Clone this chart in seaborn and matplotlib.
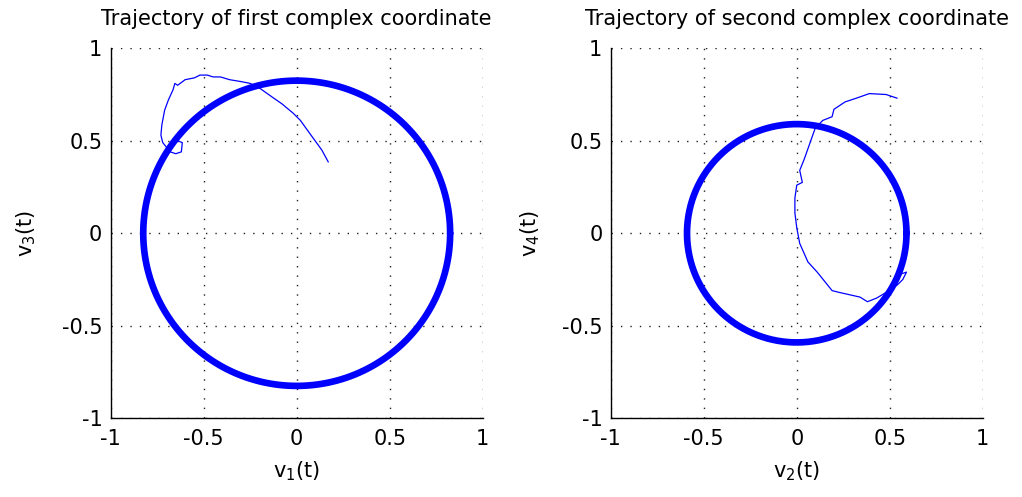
import numpy as np
import pandas as pd
import matplotlib
matplotlib.use("Agg")
import matplotlib.pyplot as plt
import seaborn as sns

# Limit cycle radii of each complex coordinate
radius_first = 0.825
radius_second = 0.59

# Transient trajectory of the first complex coordinate (v1, v3)
v1 = [0.17, 0.135, 0.07, 0.02, -0.02, -0.08, -0.13, -0.20, -0.25, -0.30, -0.36,
      -0.41, -0.45, -0.48, -0.52, -0.55, -0.60, -0.64, -0.655, -0.665, -0.69,
      -0.71, -0.725, -0.73, -0.72, -0.70, -0.68, -0.65, -0.62, -0.615, -0.64, -0.665]
v3 = [0.385, 0.45, 0.54, 0.61, 0.65, 0.70, 0.735, 0.785, 0.81, 0.82, 0.83,
      0.845, 0.845, 0.855, 0.855, 0.84, 0.83, 0.80, 0.81, 0.775, 0.72,
      0.665, 0.585, 0.53, 0.49, 0.465, 0.44, 0.43, 0.44, 0.49, 0.50, 0.495]

# Transient trajectory of the second complex coordinate (v2, v4)
v2 = [0.54, 0.48, 0.39, 0.32, 0.26, 0.20, 0.19, 0.14, 0.10, 0.07, 0.04, 0.016,
      0.03, 0.0, -0.01, -0.01, 0.0, 0.016, 0.06, 0.11, 0.19, 0.23, 0.34, 0.38,
      0.43, 0.48, 0.54, 0.57, 0.59, 0.56]
v4 = [0.73, 0.75, 0.755, 0.73, 0.71, 0.67, 0.63, 0.61, 0.57, 0.485, 0.40, 0.34,
      0.275, 0.26, 0.19, 0.11, 0.03, -0.055, -0.155, -0.21, -0.31, -0.32, -0.345,
      -0.37, -0.35, -0.32, -0.28, -0.25, -0.21, -0.22]

ticks = [-1, -0.5, 0, 0.5, 1]
tick_labels = ["-1", "-0.5", "0", "0.5", "1"]

titles = ["Trajectory of first complex coordinate",
          "Trajectory of second complex coordinate"]
xlabels = ["v$_1$(t)", "v$_2$(t)"]
ylabels = ["v$_3$(t)", "v$_4$(t)"]
ylabel_x = [-0.195, -0.185]

sns.set_style("white")
plt.rcParams["font.family"] = ["DejaVu Sans"]
plt.rcParams["mathtext.fontset"] = "dejavusans"
plt.rcParams["mathtext.default"] = "regular"
plt.rcParams["text.color"] = "black"
plt.rcParams["axes.labelcolor"] = "black"

fig = plt.figure(figsize=(10.22, 4.97), dpi=100)
ax_left = fig.add_axes([0.1083, 0.1584, 0.364, 0.7445])
ax_right = fig.add_axes([0.5976, 0.1584, 0.364, 0.7445])

theta = np.linspace(0, 2 * np.pi, 400)
panels = [
    (ax_left, radius_first, v1, v3),
    (ax_right, radius_second, v2, v4),
]

blue = "#0000ff"
for i, (ax, r, xs, ys) in enumerate(panels):
    circle = pd.DataFrame({"x": r * np.cos(theta), "y": r * np.sin(theta)})
    sns.lineplot(data=circle, x="x", y="y", sort=False, estimator=None,
                 color=blue, linewidth=4.8, ax=ax)
    traj = pd.DataFrame({"x": xs, "y": ys})
    sns.lineplot(data=traj, x="x", y="y", sort=False, estimator=None,
                 color=blue, linewidth=0.9, ax=ax)

    ax.set_xlim(-1, 1)
    ax.set_ylim(-1, 1)
    ax.set_xticks(ticks)
    ax.set_yticks(ticks)
    ax.set_xticklabels(tick_labels)
    ax.set_yticklabels(tick_labels)
    ax.grid(True, color="#222222", linestyle=(0, (1, 5.8)), linewidth=1.0)
    ax.tick_params(direction="in", length=4, width=0.8, labelsize=15,
                   colors="black")
    ax.tick_params(axis="x", pad=8)
    ax.tick_params(axis="y", pad=6)
    for side in ("top", "right"):
        ax.spines[side].set_visible(False)
    for side in ("left", "bottom"):
        ax.spines[side].set_color("black")
        ax.spines[side].set_linewidth(1.0)
    ax.set_title(titles[i], fontsize=15, pad=17, color="black")
    ax.set_xlabel(xlabels[i], fontsize=15)
    ax.set_ylabel(ylabels[i], fontsize=15)
    ax.xaxis.set_label_coords(0.5, -0.112)
    ax.yaxis.set_label_coords(ylabel_x[i], 0.5)

fig.savefig("out.png", dpi=100, facecolor="white")
